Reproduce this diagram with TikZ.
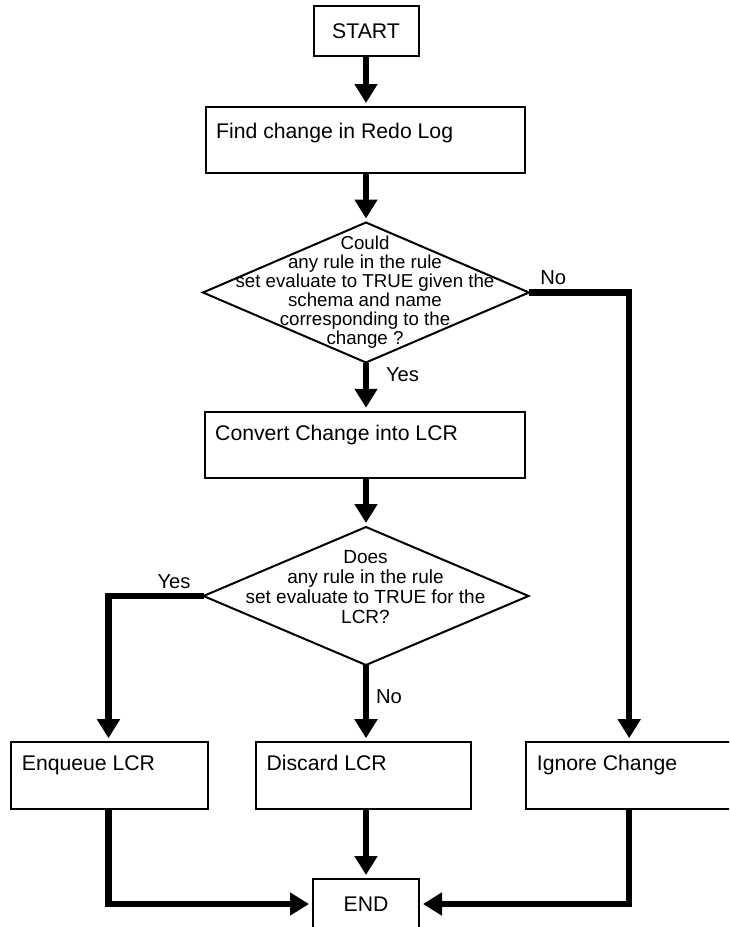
\documentclass[tikz,border=0pt]{standalone}
\usepackage{fontspec}
\setmainfont{Liberation Sans}
\usetikzlibrary{shapes.geometric,arrows.meta}

\tikzset{
  stepbox/.style={draw=black, line width=2pt, inner sep=0pt, outer sep=0pt},
  boxtext/.style={anchor=base west, inner sep=0pt, font=\fontsize{21.2}{25}\selectfont},
  decision/.style={draw=black, line width=2pt, shape=diamond, inner sep=0pt, outer sep=0pt},
  dtext/.style={align=center, inner sep=0pt, font=\fontsize{18.7}{19}\selectfont},
  lbl/.style={inner sep=0pt, font=\fontsize{20.2}{24}\selectfont},
  conn/.style={line width=6.5pt, -{Triangle[width=22pt,length=19pt]}, shorten >=4pt},
}

\begin{document}
\begin{tikzpicture}[x=1pt,y=-1pt]
  \useasboundingbox (0,0) rectangle (729,927);
  \clip (0,0) rectangle (729,927);
  \fill[white] (0,0) rectangle (729,927);

  % terminals
  \node[stepbox, minimum width=105pt, minimum height=50pt] (start) at (366,31) {};
  \node[font=\fontsize{21.2}{25}\selectfont, inner sep=0pt] at (start.center) {START};

  \node[stepbox, minimum width=106pt, minimum height=50pt] (endn) at (366,904) {};
  \node[font=\fontsize{21.2}{25}\selectfont, inner sep=0pt] at (endn.center) {END};

  % process boxes
  \node[stepbox, minimum width=319pt, minimum height=66pt] (find) at (365.3,140) {};
  \node[boxtext] at (216,138) {Find change in Redo Log};

  \node[stepbox, minimum width=320pt, minimum height=66.5pt] (convert) at (365,445) {};
  \node[boxtext] at (215,440) {Convert Change into LCR};

  \node[stepbox, minimum width=197pt, minimum height=67pt] (enqueue) at (109.7,775.7) {};
  \node[boxtext] at (21.7,770.7) {Enqueue LCR};

  \node[stepbox, minimum width=215pt, minimum height=67pt] (discard) at (363.5,775.7) {};
  \node[boxtext] at (266.4,770.7) {Discard LCR};

  \node[stepbox, minimum width=207pt, minimum height=67pt] (ignore) at (629.2,775.7) {};
  \node[boxtext] at (536.7,770.7) {Ignore Change};

  % decisions
  \node[decision, minimum width=326pt, minimum height=140pt] (d1) at (366,292.5) {};
  \node[dtext] at (365,291.8) {Could\\any rule in the rule\\set evaluate to TRUE given the\\schema and name\\corresponding to the\\change ?};

  \node[decision, minimum width=325pt, minimum height=138pt] (d2) at (366,596) {};
  \node[dtext, font=\fontsize{19}{20}\selectfont] at (365.5,586.7) {Does\\any rule in the rule\\set evaluate to TRUE for the\\LCR?};

  % connectors (the main column runs straight down at x = 366)
  \draw[conn] (start.south) -- (start.south |- find.north);
  \draw[conn] (d1.north |- find.south) -- (d1.north);
  \draw[conn] (d1.south) -- (d1.south |- convert.north);
  \draw[conn] (d1.east) -| (ignore.north);
  \draw[conn] (d2.north |- convert.south) -- (d2.north);
  \draw[conn] (d2.west) -| (enqueue.north -| 108.5,0);
  \draw[conn] (d2.south) -- (d2.south |- discard.north);
  \draw[conn] (d2.south |- discard.south) -- (endn.north);
  \draw[conn] (enqueue.south -| 108.5,0) |- (endn.west);
  \draw[conn] (ignore.south) |- (endn.east);

  % branch labels
  \node[lbl] (l1) at (553.3,277.3) {No};
  \node[lbl] (l2) at (402.5,375) {Yes};
  \node[lbl] (l3) at (174,581.5) {Yes};
  \node[lbl] (l4) at (389,697) {No};
\end{tikzpicture}
\end{document}
